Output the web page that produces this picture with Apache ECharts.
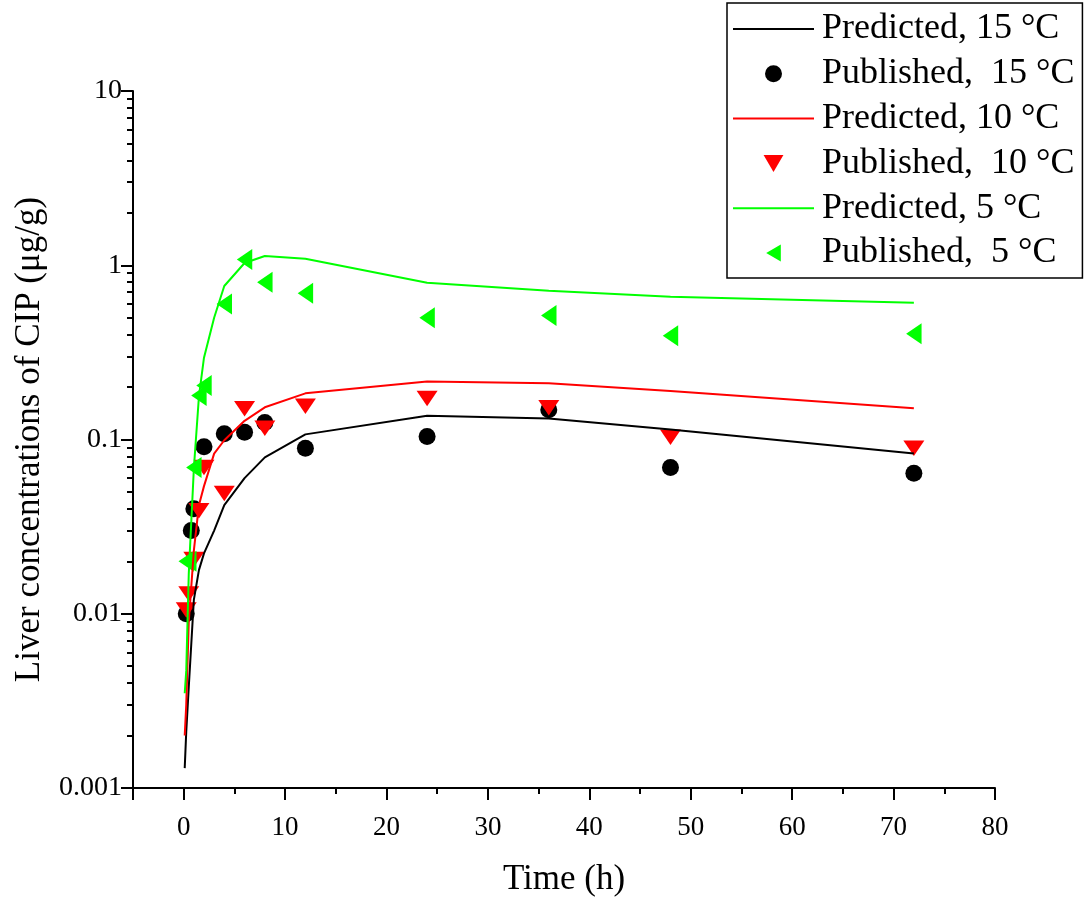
<!DOCTYPE html>
<html>
<head>
<meta charset="utf-8">
<script src="https://cdn.jsdelivr.net/npm/echarts@6/dist/echarts.min.js"></script>
<style>
html, body { margin: 0; padding: 0; background: #fff; }
#chart { width: 1084px; height: 900px; }
</style>
</head>
<body>
<div id="chart"></div>
<script>
// model curves (predicted)
var predTime = [0.1, 0.25, 0.5, 1, 1.5, 2, 3, 4, 6, 8, 12, 24, 36, 48, 72];
var pred15 = [0.0013, 0.0021, 0.0038, 0.012, 0.0178, 0.0222, 0.030, 0.042, 0.060, 0.079, 0.107, 0.137, 0.132, 0.114, 0.083];
var pred10 = [0.002, 0.003, 0.009, 0.023, 0.042, 0.054, 0.083, 0.099, 0.128, 0.153, 0.184, 0.215, 0.21, 0.19, 0.151];
var pred5 = [0.0035, 0.0047, 0.017, 0.068, 0.176, 0.295, 0.50, 0.76, 1.03, 1.13, 1.09, 0.794, 0.714, 0.66, 0.61];

// published points
var pubTime15 = [0.25, 0.75, 1, 2, 4, 6, 8, 12, 24, 36, 48, 72];
var pub15 = [0.01, 0.030, 0.040, 0.091, 0.108, 0.11, 0.125, 0.089, 0.104, 0.148, 0.069, 0.064];
var pubTime10 = [0.25, 0.5, 1, 1.5, 2, 4, 6, 8, 12, 24, 36, 48, 72];
var pub10 = [0.0105, 0.013, 0.0205, 0.039, 0.069, 0.049, 0.15, 0.116, 0.155, 0.172, 0.152, 0.103, 0.089];
var pubTime5 = [0.25, 0.5, 1, 1.5, 2, 4, 6, 8, 12, 24, 36, 48, 72];
var pub5 = [0.02, 0.02, 0.069, 0.179, 0.204, 0.60, 1.08, 0.80, 0.69, 0.50, 0.514, 0.394, 0.405];

// ticks
var xLabelValues = [0, 10, 20, 30, 40, 50, 60, 70, 80];
var xMajorTicks = [-5, 0, 10, 20, 30, 40, 50, 60, 70, 80];
var xMinorTicks = [5, 15, 25, 35, 45, 55, 65, 75];
var yLabelValues = [0.001, 0.01, 0.1, 1, 10];
var yLabelTexts = ['0.001', '0.01', '0.1', '1', '10'];
var yMinorTicks = [0.002, 0.003, 0.004, 0.005, 0.006, 0.007, 0.008, 0.009,
                   0.02, 0.03, 0.04, 0.05, 0.06, 0.07, 0.08, 0.09,
                   0.2, 0.3, 0.4, 0.5, 0.6, 0.7, 0.8, 0.9,
                   2, 3, 4, 5, 6, 7, 8, 9];

var seriesNames = ['Predicted, 15 °C', 'Published,  15 °C', 'Predicted, 10 °C',
                   'Published,  10 °C', 'Predicted, 5 °C', 'Published,  5 °C'];

// legend / marker shapes
var ICON_LINE = 'path://M0,0H81V2H0Z';
var ICON_DOWN = 'path://M0,0L21,0L10.5,18Z';
var ICON_LEFT = 'path://M0,10.5L18,0L18,21Z';

function pairs(xs, ys) {
    var out = [];
    for (var i = 0; i < xs.length; i++) {
        out.push([xs[i], ys[i]]);
    }
    return out;
}

var FONT = "'Liberation Serif', 'Times New Roman', serif";

var chart = echarts.init(document.getElementById('chart'));

function lineSeries(name, ys, color) {
    return {
        name: name,
        type: 'line',
        data: pairs(predTime, ys),
        symbol: 'none',
        showSymbol: false,
        lineStyle: { color: color, width: 2 },
        itemStyle: { color: color },
        animation: false
    };
}

function scatterSeries(name, xs, ys, color, symbol, size) {
    return {
        name: name,
        type: 'scatter',
        data: pairs(xs, ys),
        symbol: symbol,
        symbolSize: size,
        symbolKeepAspect: true,
        itemStyle: { color: color, opacity: 1 },
        animation: false
    };
}

var option = {
    backgroundColor: '#fff',
    animation: false,
    textStyle: { fontFamily: FONT, color: '#000' },
    grid: {
        left: 133,
        top: 91,
        width: 862,
        height: 697,
        containLabel: false,
        outerBoundsMode: 'none'
    },
    legend: {
        orient: 'vertical',
        left: 727,
        top: 3,
        padding: [8, 8, 7, 6],
        itemWidth: 81,
        itemHeight: 17,
        itemGap: 8.8,
        symbolKeepAspect: true,
        borderColor: '#000',
        borderWidth: 1.5,
        borderRadius: 0,
        backgroundColor: '#fff',
        textStyle: { fontFamily: FONT, fontSize: 36, color: '#000', lineHeight: 36, padding: [0, 0, 0, 3] },
        data: [
            { name: seriesNames[0], icon: ICON_LINE },
            { name: seriesNames[1], icon: 'circle' },
            { name: seriesNames[2], icon: ICON_LINE },
            { name: seriesNames[3], icon: ICON_DOWN },
            { name: seriesNames[4], icon: ICON_LINE },
            { name: seriesNames[5], icon: ICON_LEFT }
        ]
    },
    xAxis: [{
        type: 'value',
        min: -5,
        max: 80,
        name: 'Time (h)',
        nameLocation: 'middle',
        nameGap: 74,
        nameTextStyle: { fontFamily: FONT, fontSize: 35, color: '#000' },
        axisLine: { show: true, onZero: false, lineStyle: { color: '#000', width: 2 } },
        axisTick: { show: true, length: 12, customValues: xMajorTicks, lineStyle: { color: '#000', width: 2 } },
        axisLabel: { customValues: xLabelValues, fontFamily: FONT, fontSize: 27, color: '#000', margin: 26 },
        splitLine: { show: false }
    }, {
        type: 'value',
        min: -5,
        max: 80,
        position: 'bottom',
        axisLine: { show: false, onZero: false },
        axisTick: { show: true, length: 6, customValues: xMinorTicks, lineStyle: { color: '#000', width: 2 } },
        axisLabel: { show: false },
        splitLine: { show: false }
    }],
    yAxis: [{
        type: 'log',
        logBase: 10,
        min: 0.001,
        max: 10,
        name: 'Liver concentrations of CIP (μg/g)',
        nameLocation: 'middle',
        nameGap: 86,
        nameTextStyle: { fontFamily: FONT, fontSize: 35, color: '#000' },
        axisLine: { show: true, onZero: false, lineStyle: { color: '#000', width: 2 } },
        axisTick: { show: true, length: 12, customValues: yLabelValues, lineStyle: { color: '#000', width: 2 } },
        axisLabel: {
            customValues: yLabelValues,
            fontFamily: FONT, fontSize: 28, color: '#000', margin: 11,
            formatter: function (v) {
                for (var i = 0; i < yLabelValues.length; i++) {
                    if (Math.abs(Math.log10(v) - Math.log10(yLabelValues[i])) < 1e-6) {
                        return yLabelTexts[i];
                    }
                }
                return '';
            }
        },
        splitLine: { show: false }
    }, {
        type: 'log',
        logBase: 10,
        min: 0.001,
        max: 10,
        position: 'left',
        axisLine: { show: false, onZero: false },
        axisTick: { show: true, length: 6, customValues: yMinorTicks, lineStyle: { color: '#000', width: 2 } },
        axisLabel: { show: false },
        splitLine: { show: false }
    }],
    series: [
        lineSeries(seriesNames[0], pred15, '#000000'),
        scatterSeries(seriesNames[1], pubTime15, pub15, '#000000', 'circle', 17),
        lineSeries(seriesNames[2], pred10, '#ff0000'),
        scatterSeries(seriesNames[3], pubTime10, pub10, '#ff0000', ICON_DOWN, [21, 18]),
        lineSeries(seriesNames[4], pred5, '#00ff00'),
        scatterSeries(seriesNames[5], pubTime5, pub5, '#00ff00', ICON_LEFT, [18, 21])
    ]
};

chart.setOption(option);
</script>
</body>
</html>
